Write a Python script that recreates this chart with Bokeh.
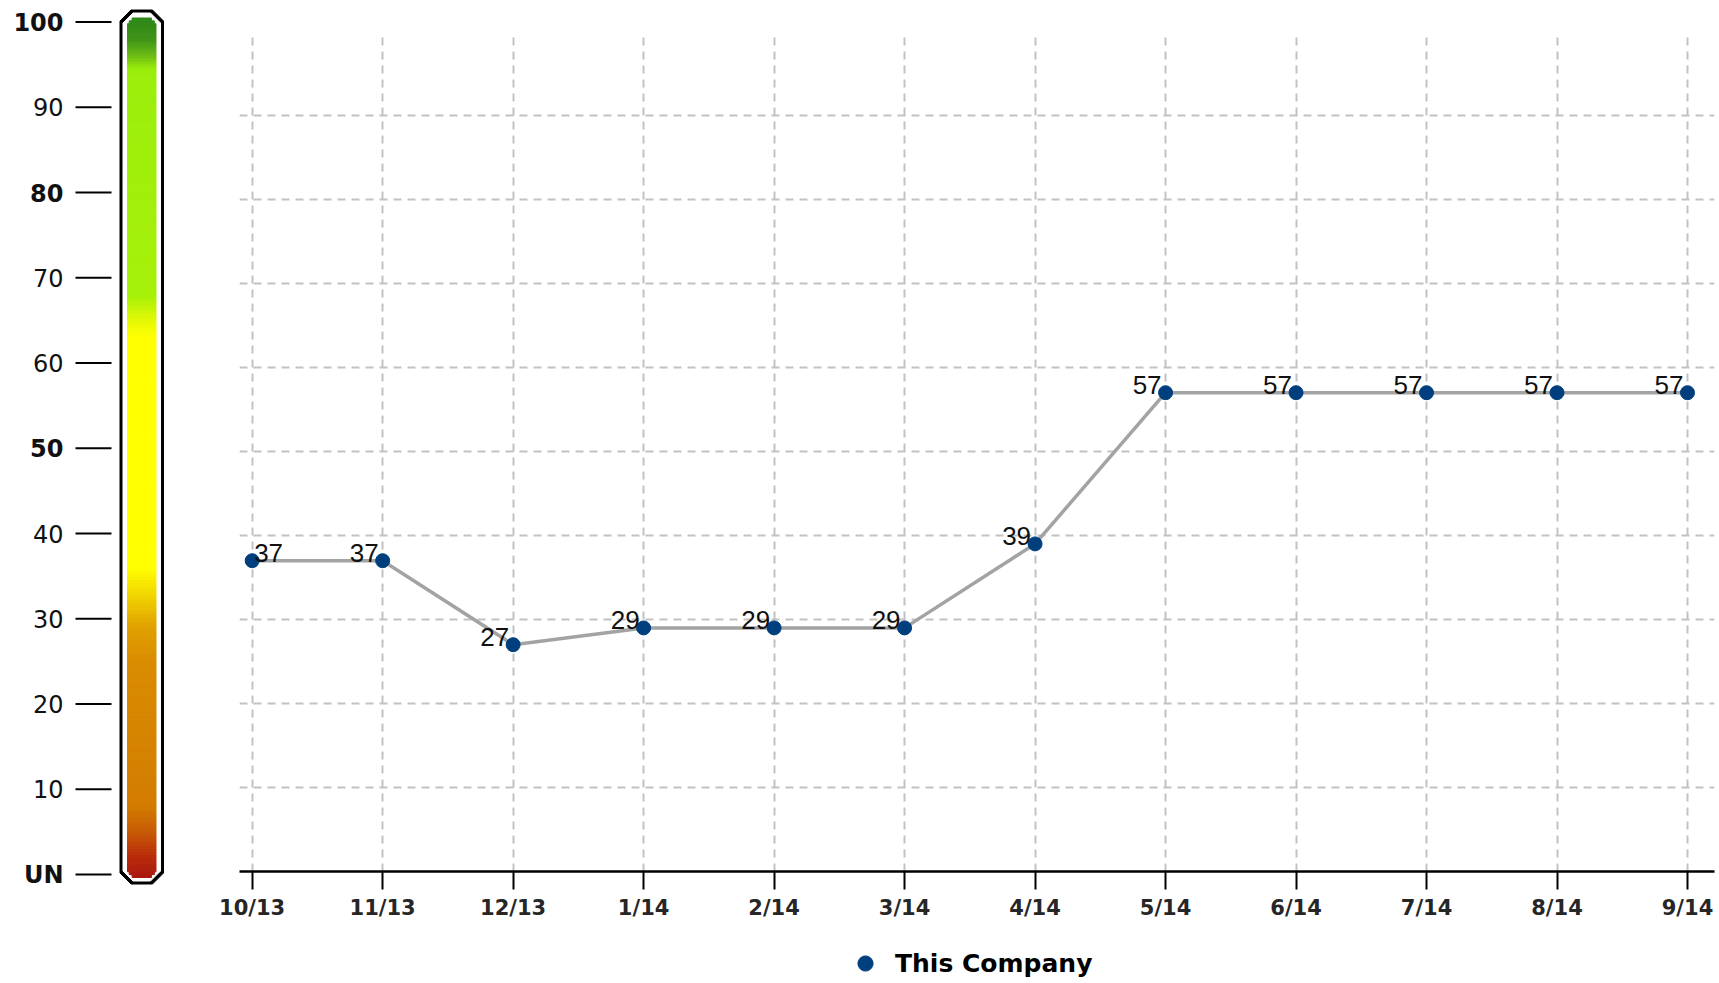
import numpy as np
from bokeh.plotting import figure
from bokeh.layouts import row, column
from bokeh.models import (ColumnDataSource, FixedTicker, Grid, Legend, LegendItem,
                          LinearAxis, Range1d)
from bokeh.core.properties import value, field
from bokeh.embed import file_html
from bokeh.resources import INLINE

# ---- chart data -------------------------------------------------------------
months = ["10/13", "11/13", "12/13", "1/14", "2/14", "3/14",
          "4/14", "5/14", "6/14", "7/14", "8/14", "9/14"]
scores = [37, 37, 27, 29, 29, 29, 39, 57, 57, 57, 57, 57]
series_name = "This Company"

# rating scale shown beside the colour gauge
scale_ticks = [0, 10, 20, 30, 40, 50, 60, 70, 80, 90, 100]
scale_labels = ["UN", "10", "20", "30", "40", "50", "60", "70", "80", "90", "100"]
scale_bold = [0, 50, 80, 100]

# colour gauge stops (score -> colour), bottom to top
gauge_stop_values = [-1.0, 2.0, 5.0, 8.0, 25.0, 29.0, 33.0, 36.0, 63.0, 64.5, 68.0, 94.5, 96.0, 98.0, 101.0]
gauge_stop_colors = ["#a51410", "#b82a0c", "#c85a06", "#d27c00", "#d98c00", "#e0a000", "#f2d800",
                     "#ffff00", "#ffff00", "#eefb04", "#a6f00a", "#9bee0c", "#6fbf14", "#3f9418",
                     "#2a8418"]

FONT = "DejaVu Sans"
H = 983
LEFT_W = 200
MAIN_W = 1719 - LEFT_W
LEG_H = 60

# ---- left: colour gauge with the rating scale --------------------------------
G_PX = 8.525     # screen pixels per score unit on the gauge
G_ZERO = 874.0   # screen row of score 0 on the gauge

gauge = figure(width=LEFT_W, height=H, x_range=Range1d(0, LEFT_W),
               y_range=Range1d((G_ZERO - H) / G_PX, G_ZERO / G_PX),
               x_axis_type=None, y_axis_type=None, toolbar_location=None,
               output_backend="svg", min_border=0, outline_line_color=None,
               background_fill_color="white", border_fill_color="white",
               frame_align=False)


def px_to_score(y_px):
    return (G_ZERO - y_px) / G_PX


def chamfered(x0, x1, top_px, bottom_px, c):
    v_top, v_bot = px_to_score(top_px), px_to_score(bottom_px)
    cy = c / G_PX
    xs = [x0, x0, x0 + c, x1 - c, x1, x1, x1 - c, x0 + c]
    ys = [v_bot + cy, v_top - cy, v_top, v_top, v_top - cy, v_bot + cy, v_bot, v_bot]
    return xs, ys


# black rim, then white ring
xs, ys = chamfered(119.5, 163.0, 9.5, 883.5, 11)
gauge.patch(xs, ys, fill_color="black", line_color="black", line_width=1)
xs, ys = chamfered(122.5, 160.0, 12.5, 880.5, 10)
gauge.patch(xs, ys, fill_color="white", line_color="white", line_width=1)


def hex_to_rgb(h):
    h = h.lstrip("#")
    return [int(h[i:i + 2], 16) for i in (0, 2, 4)]


stop_rgb = np.array([hex_to_rgb(c) for c in gauge_stop_colors], dtype=float)

# gradient body, built from thin horizontal strips with chamfered ends
fx0, fx1 = 127.0, 155.5
f_top_px, f_bot_px = 17.5, 877.0
n_strips = 300
edges_px = np.linspace(f_bot_px, f_top_px, n_strips + 1)
strip_l, strip_r, strip_b, strip_t, strip_c = [], [], [], [], []
chamf = 6.0
for i in range(n_strips):
    b_px, t_px = edges_px[i], edges_px[i + 1]
    mid_px = 0.5 * (b_px + t_px)
    dist = min(mid_px - f_top_px, f_bot_px - mid_px)
    inset = max(0.0, chamf - dist)
    v_mid = px_to_score(mid_px)
    rgb = [np.interp(v_mid, gauge_stop_values, stop_rgb[:, k]) for k in range(3)]
    strip_l.append(fx0 + inset)
    strip_r.append(fx1 - inset)
    strip_b.append(px_to_score(b_px))
    strip_t.append(px_to_score(t_px))
    strip_c.append("#%02x%02x%02x" % tuple(int(round(c)) for c in rgb))

gauge.quad(left=strip_l, right=strip_r, bottom=strip_b, top=strip_t,
           fill_color=strip_c, line_color=strip_c, line_width=1)

# scale tick marks and labels
gauge.segment(x0=75, y0=scale_ticks, x1=111, y1=scale_ticks,
              line_color="black", line_width=2)
scale_src = ColumnDataSource(dict(
    y=scale_ticks, text=scale_labels,
    style=["bold" if t in scale_bold else "normal" for t in scale_ticks]))
gauge.text(x=63, y="y", text="text", source=scale_src, text_align="right",
           text_baseline="middle", text_font=value(FONT), text_font_size="24px",
           text_font_style=field("style"), text_color="#111111")

# ---- right: monthly line chart ----------------------------------------------
x_idx = list(range(len(months)))
MAIN_H = H - LEG_H

main = figure(width=MAIN_W, height=MAIN_H, x_range=Range1d(-0.097, 11.207),
              y_range=Range1d(0, 100), x_axis_type=None, y_axis_type=None,
              toolbar_location=None, output_backend="svg",
              min_border_left=39, min_border_right=5, min_border_top=31,
              min_border_bottom=MAIN_H - 871, outline_line_color=None,
              background_fill_color="white", border_fill_color="white",
              frame_align=False)

grid_style = dict(grid_line_color="#c2c2c2", grid_line_width=2, grid_line_dash="8 6")
main.add_layout(Grid(dimension=0, ticker=FixedTicker(ticks=x_idx), **grid_style))
main.add_layout(Grid(dimension=1, ticker=FixedTicker(ticks=scale_ticks[1:-1]), **grid_style))

xaxis = LinearAxis(ticker=FixedTicker(ticks=x_idx),
                   major_label_overrides={i: m for i, m in enumerate(months)},
                   axis_line_color="black", axis_line_width=2.5,
                   major_tick_line_color="black", major_tick_line_width=2,
                   major_tick_in=0, major_tick_out=18,
                   minor_tick_line_color=None, major_label_standoff=6,
                   major_label_text_font=FONT, major_label_text_font_size="21px",
                   major_label_text_font_style="bold",
                   major_label_text_color="#262626")
main.add_layout(xaxis, "below")

src = ColumnDataSource(dict(
    x=x_idx, y=scores, label=[str(v) for v in scores],
    align=["left"] + ["right"] * (len(scores) - 1),
    dx=[2] + [-4] * (len(scores) - 1)))

POINT_COLOR = "#003f7d"
main.line("x", "y", source=src, line_color="#a3a3a3", line_width=3.5)
main.scatter("x", "y", source=src, size=14, fill_color=POINT_COLOR,
             line_color=POINT_COLOR)
main.text("x", "y", text="label", source=src, text_align=field("align"),
          x_offset=field("dx"), y_offset=-8, text_baseline="alphabetic",
          text_font=value("Liberation Sans"), text_font_size="26px",
          text_color="#111111")

# ---- legend strip under the chart -------------------------------------------
# the series is attached here only as the legend key; its points fall outside
# this strip's view, so only the legend entry is visible
leg = figure(width=MAIN_W, height=LEG_H, x_range=Range1d(100, 101), y_range=Range1d(100, 101),
             x_axis_type=None, y_axis_type=None, toolbar_location=None,
             output_backend="svg", min_border=0, outline_line_color=None,
             background_fill_color="white", border_fill_color="white",
             frame_align=False)
key = leg.scatter("x", "y", source=src, size=14, fill_color=POINT_COLOR,
                  line_color=POINT_COLOR)
legend = Legend(items=[LegendItem(label=series_name, renderers=[key])],
                orientation="horizontal", location=(646, 1),
                border_line_color=None, background_fill_alpha=0,
                label_text_font=FONT, label_text_font_size="25px",
                label_text_font_style="bold", label_text_color="black",
                glyph_width=38, glyph_height=38, label_height=38,
                label_standoff=11, padding=0, spacing=0, margin=0)
leg.add_layout(legend)

layout = row(gauge, column(main, leg, spacing=0), spacing=0)

with open("out.html", "w") as f:
    f.write(file_html(layout, INLINE))
